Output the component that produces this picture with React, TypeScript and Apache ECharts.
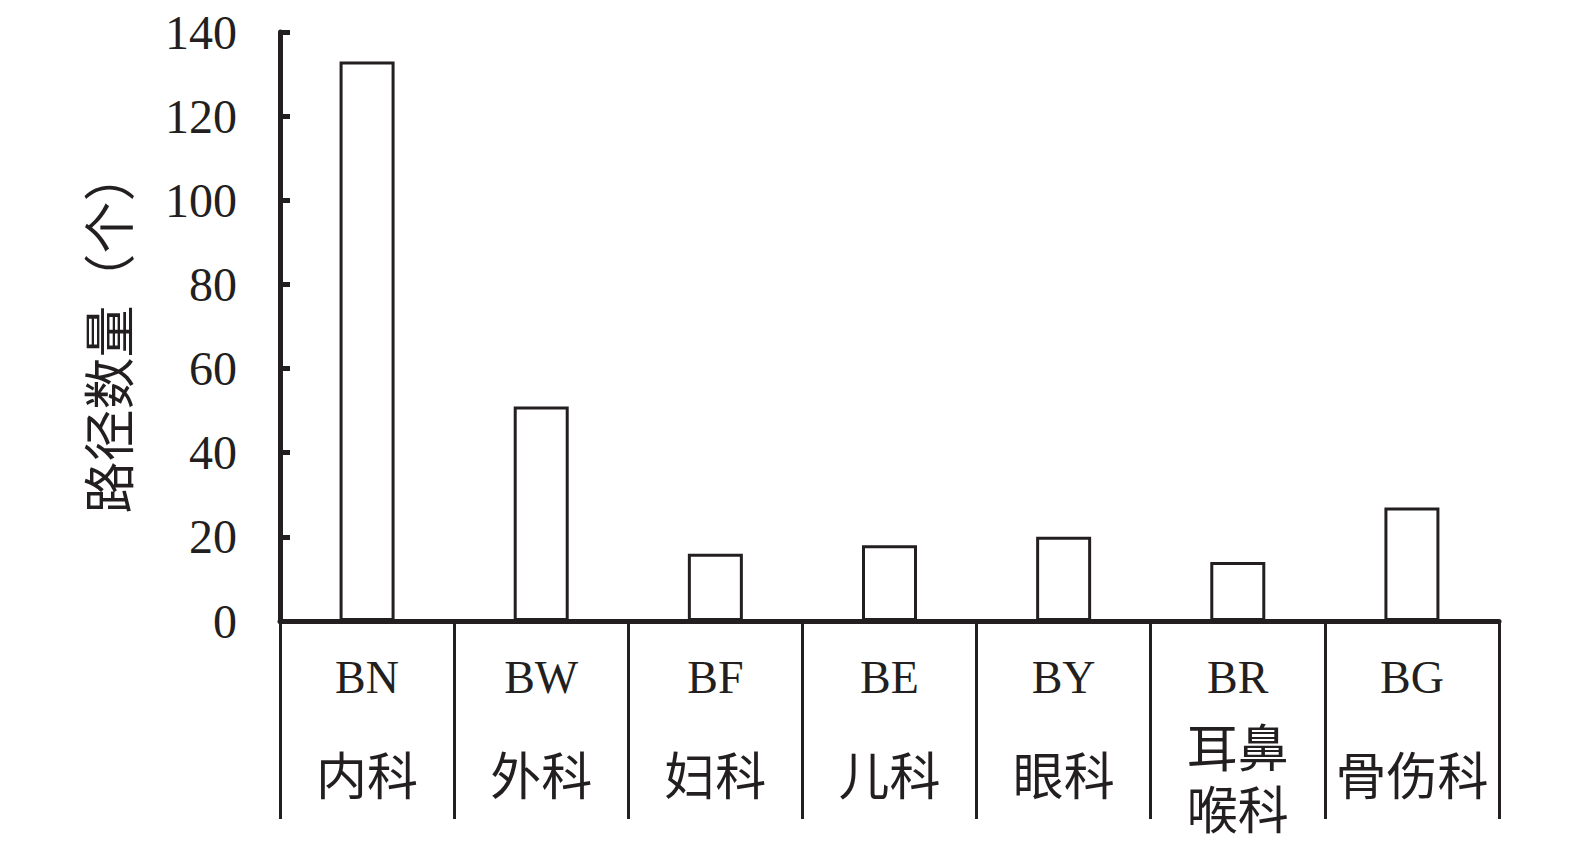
import React, { useEffect, useRef } from "react";
import * as echarts from "echarts";

const codes = ["BN", "BW", "BF", "BE", "BY", "BR", "BG"];
const names = ["内科", "外科", "妇科", "儿科", "眼科", "耳鼻\n喉科", "骨伤科"];
const pathCounts = [133, 51, 16, 18, 20, 14, 27];
const yAxisName = "路径数量（个）";

const INK = "#231f20";
const LATIN = "'Liberation Serif', serif";
const CJK = "'Noto Sans CJK SC', sans-serif";
const FONT = "'Liberation Serif', 'Noto Sans CJK SC', serif";

export default function App() {
  const ref = useRef<HTMLDivElement>(null);

  useEffect(() => {
    if (!ref.current) return;
    const chart = echarts.init(ref.current, undefined, { renderer: "svg" });

    const categories = codes.map((c, i) => c + "|" + names[i]);

    chart.setOption({
      animation: false,
      backgroundColor: "#ffffff",
      grid: { left: 280, right: 76, top: 32, bottom: 223, containLabel: false },
      xAxis: {
        type: "category",
        data: categories,
        boundaryGap: true,
        axisLine: { show: true, lineStyle: { color: INK, width: 5 } },
        axisTick: {
          show: true,
          interval: 0,
          length: 198,
          inside: false,
          lineStyle: { color: INK, width: 3 },
        },
        axisLabel: {
          interval: 0,
          margin: 8,
          color: INK,
          fontFamily: FONT,
          formatter: (v: string) => {
            const [code, name] = v.split("|");
            if (name.includes("\n")) {
              // department name wrapped onto two tighter lines
              const [l1, l2] = name.split("\n");
              return `{a|${code}}\n{c|${l1}}\n{d|${l2}}`;
            }
            return `{a|${code}}\n{b|${name}}`;
          },
          rich: {
            a: { fontSize: 46, lineHeight: 96, fontFamily: LATIN, color: INK },
            b: { fontSize: 51, lineHeight: 96, fontFamily: CJK, color: INK },
            c: { fontSize: 51, lineHeight: 40, fontFamily: CJK, color: INK },
            d: { fontSize: 51, lineHeight: 84, fontFamily: CJK, color: INK },
          },
        },
        splitLine: { show: false },
      },
      yAxis: {
        type: "value",
        min: 0,
        max: 140,
        interval: 20,
        name: yAxisName,
        nameLocation: "middle",
        nameGap: 148,
        nameRotate: 90,
        nameTextStyle: {
          fontSize: 52,
          color: INK,
          fontFamily: CJK,
          padding: [0, 10, 0, 0],
        },
        axisLine: { show: true, lineStyle: { color: INK, width: 5 } },
        axisTick: { show: true, inside: true, length: 10, lineStyle: { color: INK, width: 5 } },
        axisLabel: { margin: 43, fontSize: 48, color: INK, fontFamily: LATIN },
        splitLine: { show: false },
      },
      series: [
        {
          type: "bar",
          data: pathCounts,
          barWidth: 55,
          itemStyle: { color: "#ffffff", borderColor: INK, borderWidth: 3 },
        },
      ],
    });

    return () => chart.dispose();
  }, []);

  return (
    <div
      ref={ref}
      style={{ position: "absolute", left: 0, top: 0, width: 1575, height: 844 }}
    />
  );
}
